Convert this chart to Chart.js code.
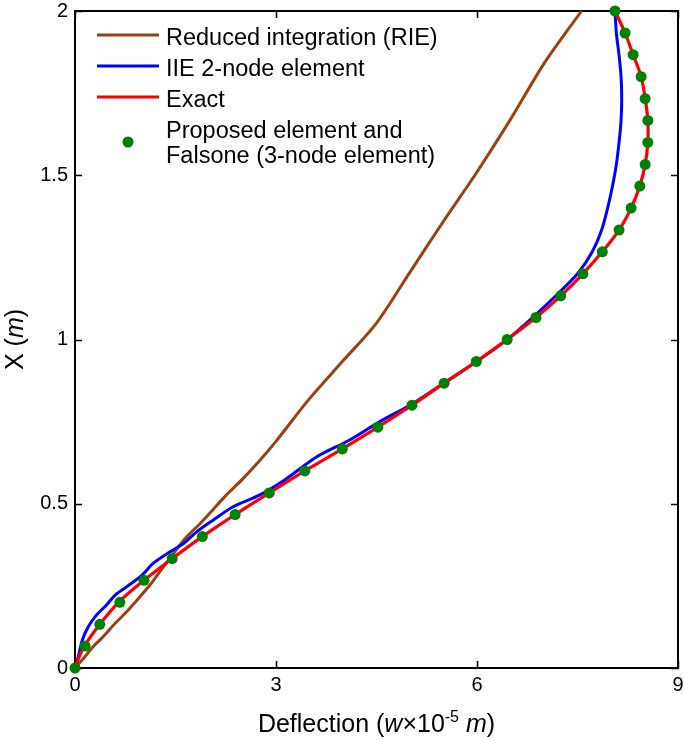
<!DOCTYPE html>
<html>
<head>
<meta charset="utf-8">
<script src="https://cdn.jsdelivr.net/npm/chart.js@4.4.1/dist/chart.umd.min.js"></script>
<style>
  html, body { margin: 0; padding: 0; background: #fff; }
  canvas { display: block; }
</style>
</head>
<body>
<canvas id="deflectionChart" width="685" height="741"></canvas>
<script>
// values: deflection (w x 1e-5 m) against X (m)
const xTicks = [0, 3, 6, 9];
const yTicks = [0, 0.5, 1, 1.5, 2];

const rieX = [0, 0.15, 0.27, 0.42, 0.6, 0.77, 0.97, 1.14, 1.32, 1.49, 1.67, 1.87, 2.06, 2.26, 2.5, 2.75, 3.0, 3.5, 4.0, 4.5, 5.0, 5.5, 6.0, 6.5, 7.0, 7.56];
const rieY = [0, 0.035, 0.065, 0.095, 0.136, 0.171, 0.217, 0.258, 0.308, 0.354, 0.4, 0.44, 0.482, 0.527, 0.575, 0.63, 0.69, 0.82, 0.935, 1.05, 1.205, 1.36, 1.51, 1.67, 1.84, 2.0];

const iieX = [0, 0.05, 0.11, 0.2, 0.32, 0.47, 0.6, 0.77, 1.0, 1.17, 1.42, 1.62, 1.82, 2.06, 2.36, 2.76, 3.14, 3.61, 4.1, 4.55, 5.05, 5.52, 6.0, 6.45, 6.83, 7.18, 7.5, 7.72, 7.86, 7.95, 8.02, 8.08, 8.12, 8.15, 8.16, 8.15, 8.12, 8.08, 8.06];
const iieY = [0, 0.035, 0.085, 0.126, 0.161, 0.192, 0.222, 0.247, 0.283, 0.319, 0.354, 0.379, 0.415, 0.45, 0.491, 0.527, 0.574, 0.643, 0.694, 0.75, 0.806, 0.869, 0.934, 1.0, 1.067, 1.134, 1.2, 1.267, 1.333, 1.4, 1.465, 1.533, 1.6, 1.666, 1.733, 1.8, 1.866, 1.933, 2.0];

const exactX = [0, 0.06, 0.14, 0.37, 0.65, 1.03, 1.45, 1.9, 2.39, 2.9, 3.43, 3.99, 4.52, 5.03, 5.51, 5.99, 6.45, 6.88, 7.25, 7.58, 7.87, 8.12, 8.3, 8.43, 8.51, 8.55, 8.55, 8.51, 8.45, 8.33, 8.21, 8.06];
const exactY = [0, 0.033, 0.067, 0.133, 0.2, 0.267, 0.333, 0.4, 0.467, 0.533, 0.6, 0.667, 0.733, 0.8, 0.867, 0.933, 1.0, 1.067, 1.133, 1.2, 1.267, 1.333, 1.4, 1.467, 1.533, 1.6, 1.667, 1.733, 1.8, 1.867, 1.933, 2.0];

const propX = [0, 0.15, 0.37, 0.67, 1.03, 1.45, 1.9, 2.39, 2.9, 3.43, 3.99, 4.52, 5.03, 5.51, 5.99, 6.45, 6.88, 7.25, 7.58, 7.87, 8.12, 8.3, 8.43, 8.51, 8.55, 8.55, 8.51, 8.45, 8.33, 8.21, 8.06];
const propY = [0, 0.067, 0.133, 0.2, 0.267, 0.333, 0.4, 0.467, 0.533, 0.6, 0.667, 0.733, 0.8, 0.867, 0.933, 1.0, 1.067, 1.133, 1.2, 1.267, 1.333, 1.4, 1.467, 1.533, 1.6, 1.667, 1.733, 1.8, 1.867, 1.933, 2.0];

const FONT = '"Liberation Sans", Arial, Helvetica, sans-serif';

function zip(xs, ys) {
  return xs.map((x, i) => ({ x, y: ys[i] }));
}

// box frame with inward ticks on all four sides
const frameTicks = {
  id: "frameTicks",
  beforeDatasetsDraw(chart) {
    const { ctx, chartArea: a, scales } = chart;
    const len = 7;
    ctx.save();
    ctx.strokeStyle = "#000";
    ctx.lineWidth = 2;
    ctx.strokeRect(a.left, a.top, a.right - a.left, a.bottom - a.top);
    ctx.lineWidth = 1.5;
    ctx.beginPath();
    xTicks.forEach(v => {
      const px = Math.round(scales.x.getPixelForValue(v)) + 0.5;
      ctx.moveTo(px, a.bottom); ctx.lineTo(px, a.bottom - len);
      ctx.moveTo(px, a.top); ctx.lineTo(px, a.top + len);
    });
    yTicks.forEach(v => {
      const py = Math.round(scales.y.getPixelForValue(v)) + 0.5;
      ctx.moveTo(a.left, py); ctx.lineTo(a.left + len, py);
      ctx.moveTo(a.right, py); ctx.lineTo(a.right - len, py);
    });
    ctx.stroke();
    ctx.restore();
  }
};

function drawRich(ctx, parts, x, y) {
  let total = 0;
  parts.forEach(p => { ctx.font = p.font; p.w = ctx.measureText(p.text).width; total += p.w; });
  let cx = x - total / 2;
  parts.forEach(p => {
    ctx.font = p.font;
    ctx.fillText(p.text, cx, y + (p.dy || 0));
    cx += p.w;
  });
}

// axis titles with italic symbols and the superscript
const axisTitles = {
  id: "axisTitles",
  afterDraw(chart) {
    const { ctx, chartArea: a } = chart;
    const f = "25px " + FONT, fi = "italic 25px " + FONT, fs = "16px " + FONT;
    ctx.save();
    ctx.fillStyle = "#000";
    ctx.textBaseline = "alphabetic";
    ctx.textAlign = "left";
    drawRich(ctx, [
      { text: "Deflection (", font: f },
      { text: "w", font: fi },
      { text: "\u00d710", font: f },
      { text: "-5", font: fs, dy: -10 },
      { text: " ", font: f },
      { text: "m", font: fi },
      { text: ")", font: f }
    ], (a.left + a.right) / 2, 732);

    ctx.translate(23, (a.top + a.bottom) / 2);
    ctx.rotate(-Math.PI / 2);
    drawRich(ctx, [
      { text: "X (", font: f },
      { text: "m", font: fi },
      { text: ")", font: f }
    ], 0, 0);
    ctx.restore();
  }
};

// legend inside the top-left corner of the plot
const boxLegend = {
  id: "boxLegend",
  afterDraw(chart) {
    const { ctx } = chart;
    const ds = chart.data.datasets;
    const x0 = 97, x1 = 159, tx = 166;
    const rows = [
      { line: 35, base: [45] },
      { line: 66, base: [76] },
      { line: 97, base: [107] },
      { line: 142, base: [138, 163] }
    ];
    ctx.save();
    ctx.font = "23.5px " + FONT;
    ctx.fillStyle = "#000";
    ctx.textAlign = "left";
    ctx.textBaseline = "alphabetic";
    ds.forEach((d, i) => {
      const r = rows[i];
      if (d.showLine) {
        ctx.strokeStyle = d.borderColor;
        ctx.lineWidth = d.borderWidth;
        ctx.beginPath();
        ctx.moveTo(x0, r.line);
        ctx.lineTo(x1, r.line);
        ctx.stroke();
      } else {
        ctx.fillStyle = d.backgroundColor;
        ctx.beginPath();
        ctx.arc((x0 + x1) / 2, r.line, d.pointRadius, 0, Math.PI * 2);
        ctx.fill();
        ctx.fillStyle = "#000";
      }
      const lines = Array.isArray(d.label) ? d.label : [d.label];
      lines.forEach((t, k) => ctx.fillText(t, tx, r.base[k]));
    });
    ctx.restore();
  }
};

const lineDefaults = { showLine: true, pointRadius: 0, pointHoverRadius: 0, fill: false, clip: false };

new Chart(document.getElementById("deflectionChart"), {
  type: "scatter",
  data: {
    datasets: [
      { ...lineDefaults, label: "Reduced integration (RIE)", data: zip(rieX, rieY),
        borderColor: "#9c4010", borderWidth: 3, tension: 0.3, order: 3 },
      { ...lineDefaults, label: "IIE 2-node element", data: zip(iieX, iieY),
        borderColor: "#0000ff", borderWidth: 3, tension: 0.3, order: 2 },
      { ...lineDefaults, label: "Exact", data: zip(exactX, exactY),
        borderColor: "#ff0000", borderWidth: 3.2, tension: 0.35, order: 1 },
      { label: ["Proposed element and", "Falsone (3-node element)"], data: zip(propX, propY),
        showLine: false, pointRadius: 5.5, pointHoverRadius: 5.5, pointBorderWidth: 0,
        backgroundColor: "#008000", borderColor: "#008000", clip: false, order: 0 }
    ]
  },
  options: {
    responsive: false,
    animation: false,
    events: [],
    layout: { padding: { top: 11, right: 7, left: 0, bottom: 0 } },
    plugins: { legend: { display: false }, tooltip: { enabled: false } },
    scales: {
      x: {
        type: "linear", min: 0, max: 9,
        afterBuildTicks: s => { s.ticks = xTicks.map(v => ({ value: v })); },
        afterFit: s => { s.height = 73; s.paddingLeft = 0; s.paddingRight = 0; },
        grid: { display: false, drawTicks: false },
        border: { display: false },
        title: { display: false, text: "Deflection (w×10-5 m)" },
        ticks: { color: "#000", padding: 7, maxRotation: 0, callback: v => String(v),
                 font: { family: FONT, size: 20, lineHeight: 1 } }
      },
      y: {
        type: "linear", min: 0, max: 2,
        afterBuildTicks: s => { s.ticks = yTicks.map(v => ({ value: v })); },
        afterFit: s => { s.width = 75; s.paddingTop = 0; s.paddingBottom = 0; },
        grid: { display: false, drawTicks: false },
        border: { display: false },
        title: { display: false, text: "X (m)" },
        ticks: { color: "#000", padding: 7, callback: v => String(v),
                 font: { family: FONT, size: 20, lineHeight: 1 } }
      }
    }
  },
  plugins: [frameTicks, axisTitles, boxLegend]
});
</script>
</body>
</html>
